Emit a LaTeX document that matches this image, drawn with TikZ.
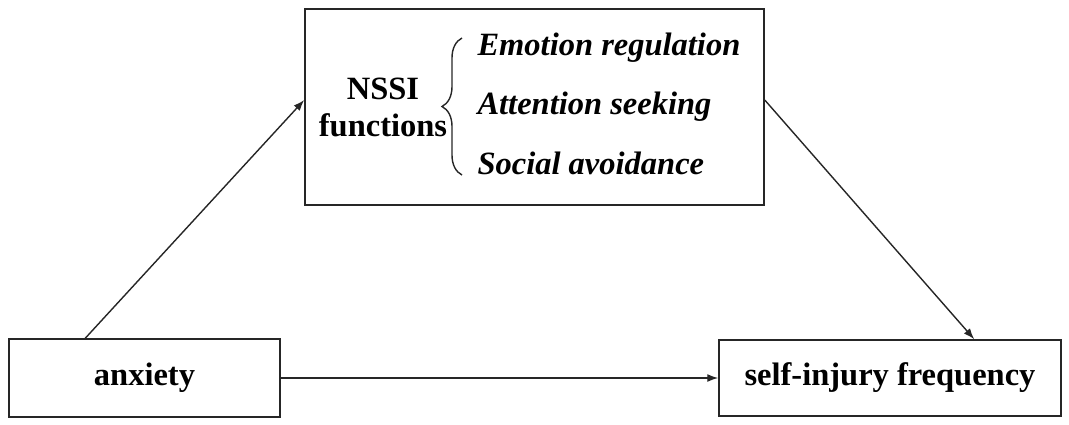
\documentclass[tikz,border=0pt]{standalone}
\usepackage{fontspec}
\setmainfont{Liberation Serif}
\usetikzlibrary{arrows.meta,decorations.pathreplacing}

\begin{document}
\begin{tikzpicture}[x=1pt, y=-1pt, every node/.style={font=\fontsize{32.5}{37}\selectfont\bfseries},
	box/.style={draw=black!85, line width=1.5pt, inner sep=0pt},
	fn/.style={anchor=west, font=\fontsize{32.5}{37}\selectfont\bfseries\itshape},
	arr/.style={draw=black!85, line width=1.4pt, -{Latex[length=11pt,width=8pt]}}]
	\useasboundingbox (0,0) rectangle (1069,424);

	\node[box, minimum width=271pt, minimum height=78pt](ANX) at (144.5,378){anxiety};
	\node[box, right of=ANX, node distance=745.5pt, minimum width=342pt, minimum height=76pt](SIF){self-injury frequency};
	\node[box, above of=ANX, node distance=271pt, xshift=390pt, minimum width=459pt, minimum height=196pt](NSSI){};

	\node[left of=NSSI, node distance=151.5pt, align=center](FN){NSSI\\functions};

	\coordinate (TOP) at (462,38);
	\coordinate (BOT) at (462,175);
	\draw[draw=black!85, line width=1.4pt, decorate, decoration={brace, amplitude=20pt}] (BOT) -- (TOP);

	\node[fn](F1) at (474,48){Emotion regulation};
	\node[fn](F2) at (474,107){Attention seeking};
	\node[fn](F3) at (474,163){Social avoidance};

	\coordinate (A1) at ([xshift=77pt]ANX.north west);
	\coordinate (N1) at ([yshift=7pt]NSSI.west);
	\coordinate (N2) at ([yshift=7pt]NSSI.east);
	\coordinate (S1) at ([xshift=256pt]SIF.north west);

	\draw[arr] (A1) -- (N1);
	\draw[arr] (N2) -- (S1);
	\draw[arr] (ANX) -- (SIF);

\end{tikzpicture}
\end{document}
